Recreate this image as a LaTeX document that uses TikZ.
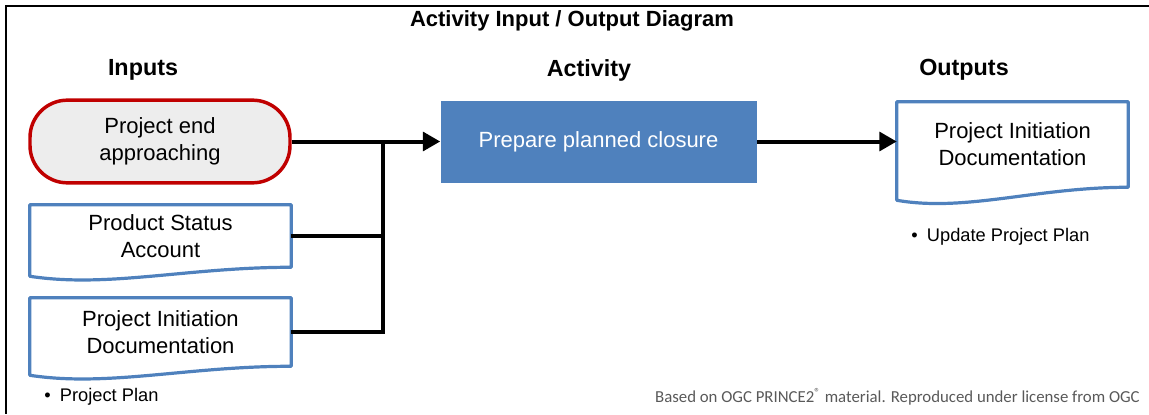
\documentclass[tikz,border=0pt]{standalone}
\usepackage{fontspec}
\setmainfont{Liberation Sans}
\newfontfamily\footfont{Carlito}
\usepackage{tikz}
\usetikzlibrary{arrows.meta,positioning,calc}
\definecolor{actblue}{HTML}{4F81BD}
\definecolor{endred}{HTML}{C00000}
\definecolor{endgray}{HTML}{EDEDED}
\definecolor{notegray}{HTML}{595959}
\newcommand{\docoutline}[2]{%
  \draw[docline] (#1.south east) -- (#1.north east) -- (#1.north west) -- ($(#1.south west)+(0,#2)$)
    .. controls ($(#1.south east)!0.7!(#1.south west)+(0,#2+12)$) and ($(#1.south east)!0.4!(#1.south west)$) .. (#1.south east) -- cycle;}

\begin{document}
\begin{tikzpicture}[x=0.75pt,y=-0.75pt,
  ttl/.style={font=\fontsize{16.5}{19}\selectfont\bfseries},
  hdr/.style={font=\fontsize{17.5}{20}\selectfont\bfseries},
  term/.style={draw=endred,fill=endgray,line width=2.6pt,rounded corners=28pt,align=center,minimum width=195pt,minimum height=62pt,font=\fontsize{16.5}{20.25}\selectfont},
  doc/.style={align=center,inner sep=0pt,minimum width=195.75pt,font=\fontsize{16.5}{20.25}\selectfont},
  act/.style={fill=actblue,text=white,align=center,minimum width=237pt,minimum height=61.5pt,font=\fontsize{16.5}{20.25}\selectfont},
  docline/.style={draw=actblue,line width=2.4pt,line join=round},
  note/.style={anchor=west,inner sep=0pt,font=\fontsize{13.7}{16}\selectfont},
  foot/.style={anchor=east,inner sep=0pt,text=notegray,font=\footfont\fontsize{12.6}{14}\selectfont},
  frame/.style={line width=2pt,line join=miter},
  wire/.style={line width=3pt},
  ar/.style={wire,-{Triangle[length=13pt,width=14pt]}}]

\useasboundingbox (0,0) rectangle (1149,414);
\draw[frame] (1149,6) -- (6,6) -- (6,414);

\node[ttl]  (title)  at (572,21)  {Activity Input / Output Diagram};
\node[hdr]  (inhdr)  at (143,70)  {Inputs};
\node[hdr]  (acthdr) at (589,70)  {Activity};
\node[hdr]  (outhdr) at (964,70)  {Outputs};

\node[term] (endin)  at (160,141.5) {Project end\\approaching};
\node[doc,minimum height=46.5pt] (psa)   at (160.5,236) {Product Status\\Account};
\node[doc,minimum height=51pt]   (pidin) at (160.5,332) {Project Initiation\\Documentation};
\node[act]  (prep)   at (598.5,141.5) {Prepare planned closure};
\node[doc,minimum width=173.25pt,minimum height=63.75pt] (pidout) at (1012.5,144.5) {Project Initiation\\Documentation};

\docoutline{psa}{9}
\docoutline{pidin}{9}
\docoutline{pidout}{13}

\node[note] (plan) at (44,397) {\textbullet\hspace{7pt}Project Plan};
\node[note] (upd)  at (911,237) {\textbullet\hspace{7pt}Update Project Plan};
\node[foot] (src)  at (1140,397) {Based on OGC PRINCE2\textsuperscript{®} material. Reproduced under license from OGC};

\coordinate (bus) at (383,141.5);
\draw[ar] (endin.east) -- (prep.west);
\draw[wire] (psa.east) -| (bus);
\draw[wire] (pidin.east) -| (bus);
\draw[ar] (prep.east) -- (prep.east -| pidout.west);
\end{tikzpicture}
\end{document}
